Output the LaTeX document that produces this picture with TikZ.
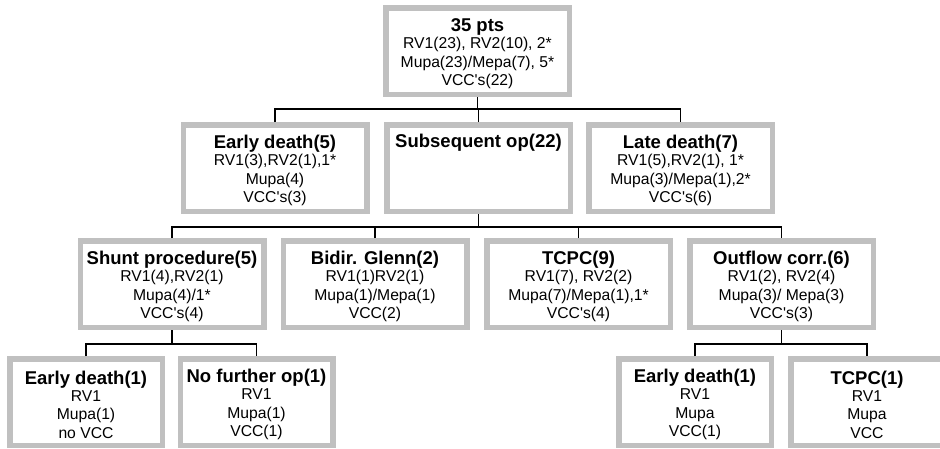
\documentclass[tikz,border=0pt]{standalone}
\usepackage{fontspec}
\setmainfont{Liberation Sans}
\usetikzlibrary{calc}
\definecolor{boxgray}{RGB}{192,192,192}
\tikzset{
	pbox/.style={draw=boxgray, line width=5.5pt, fill=white, inner sep=0pt, minimum width=183.5pt, minimum height=86.5pt, align=center, font=\fontsize{15.7}{18.5}\selectfont},
	sbox/.style={pbox, minimum width=152.5pt},
	conn/.style={line width=1.4pt, color=black}
}
\def\ttl#1{{\fontsize{18.5}{18.5}\selectfont\bfseries\rule{0pt}{18.7pt}#1}\\[-1.5pt]}
\def\vcc{VCC\textquotesingle s}

\begin{document}
\begin{tikzpicture}[x=1pt, y=-1pt]
		%%%%% START %%%%%
		\useasboundingbox (0, 0) rectangle (940, 448);
		
		\node[pbox] (pts) at (477.5, 51) {\ttl{35 pts}RV1(23), RV2(10), 2*\\Mupa(23)/Mepa(7), 5*\\\vcc(22)};
		
		\node[pbox] (edeath) at (275, 168) {\ttl{Early death(5)}RV1(3),RV2(1),1*\\Mupa(4)\\\vcc(3)};
		\node[pbox] (subop) at (478.5, 168) {\ttl{Subsequent op(22)}\strut\\\strut\\\strut};
		\node[pbox] (ldeath) at (680.5, 168) {\ttl{Late death(7)}RV1(5),RV2(1), 1*\\Mupa(3)/Mepa(1),2*\\\vcc(6)};
		
		\node[pbox] (shunt) at (172, 284) {\ttl{Shunt procedure(5)}RV1(4),RV2(1)\\Mupa(4)/1*\\\vcc(4)};
		\node[pbox] (glenn) at (375, 284) {\ttl{Bidir. Glenn(2)}RV1(1)RV2(1)\\Mupa(1)/Mepa(1)\\VCC(2)};
		\node[pbox] (tcpc) at (578.5, 284) {\ttl{TCPC(9)}RV1(7), RV2(2)\\Mupa(7)/Mepa(1),1*\\\vcc(4)};
		\node[pbox] (outflow) at (781.5, 284) {\ttl{Outflow corr.(6)}RV1(2), RV2(4)\\Mupa(3)/ Mepa(3)\\\vcc(3)};
		
		\node[sbox] (sdeath) at (86, 402) {\ttl{Early death(1)}RV1\\Mupa(1)\\no VCC};
		\node[sbox] (nofurther) at (256.5, 402) {\ttl{No further op(1)}RV1\\Mupa(1)\\VCC(1)};
		\node[sbox] (odeath) at (695, 402) {\ttl{Early death(1)}RV1\\Mupa\\VCC(1)};
		\node[sbox] (otcpc) at (867, 402) {\ttl{TCPC(1)}RV1\\Mupa\\VCC};
		
		% first split
		\coordinate (j1) at (477.5, 109);
		\draw[conn] (pts.south) -- (j1);
		\draw[conn] (edeath.north) |- (j1) -| (ldeath.north);
		\draw[conn] (subop.north) -- (subop.north |- j1);
		
		% subsequent operations
		\coordinate (j2) at (478.5, 227);
		\draw[conn] (subop.south) -- (j2);
		\draw[conn] (shunt.north) |- (j2) -| (outflow.north);
		\draw[conn] (glenn.north) -- (glenn.north |- j2);
		\draw[conn] (tcpc.north) -- (tcpc.north |- j2);
		
		\coordinate (j3) at (172, 344);
		\draw[conn] (shunt.south) -- (j3);
		\draw[conn] (sdeath.north) |- (j3) -| (nofurther.north);
		
		\coordinate (j4) at (781.5, 344);
		\draw[conn] (outflow.south) -- (j4);
		\draw[conn] (odeath.north) |- (j4) -| (otcpc.north);
		
		%%%%% END %%%%%
\end{tikzpicture}
\end{document}
